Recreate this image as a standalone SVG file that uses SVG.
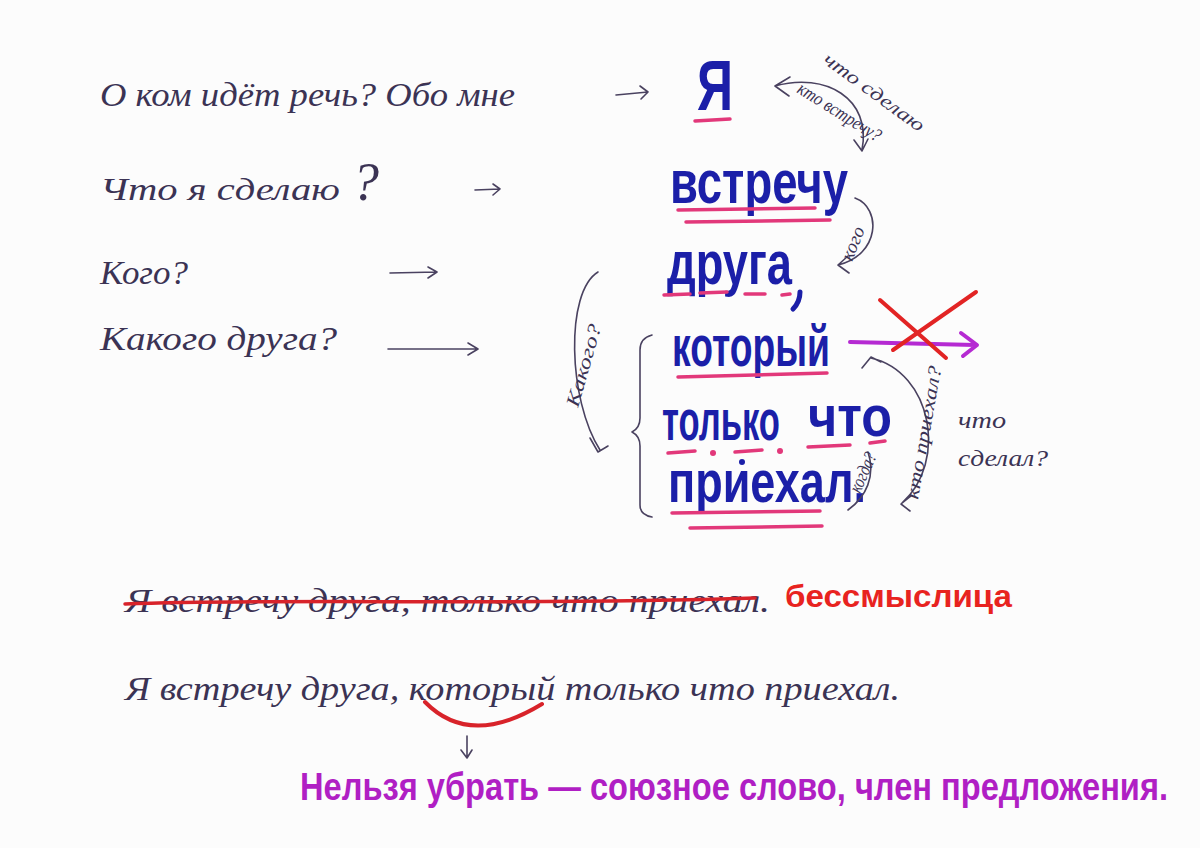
<svg xmlns="http://www.w3.org/2000/svg" width="1200" height="848" viewBox="0 0 1200 848">
<defs>
<style>
.ink{font-family:"Liberation Serif","DejaVu Serif",serif;font-style:italic;fill:#3b3354}
.blue{font-family:"Liberation Sans","DejaVu Sans",sans-serif;font-weight:700;fill:#1b1fa8}
.pen{fill:none;stroke:#4a4260;stroke-width:1.6;stroke-linecap:round;stroke-linejoin:round}
.pink{fill:none;stroke:#e2387a;stroke-width:3.5;stroke-linecap:round}
.small{font-family:"Liberation Serif","DejaVu Serif",serif;font-style:italic;fill:#3b3354;font-size:19px}
</style>
</defs>
<rect width="1200" height="848" fill="#fcfcfc"/>

<g id="questions">
<text class="ink" x="100" y="106" font-size="34" textLength="415" lengthAdjust="spacingAndGlyphs">О ком идёт речь? Обо мне</text>
<text class="ink" x="100" y="200" font-size="32" textLength="240" lengthAdjust="spacingAndGlyphs">Что я сделаю</text>
<text class="ink" x="352" y="200" font-size="54">?</text>
<text class="ink" x="100" y="284" font-size="34" textLength="88" lengthAdjust="spacingAndGlyphs">Кого?</text>
<text class="ink" x="100" y="350" font-size="34" textLength="237" lengthAdjust="spacingAndGlyphs">Какого друга?</text>
</g>

<g id="words">
<text class="blue" x="697" y="110" font-size="70" textLength="36" lengthAdjust="spacingAndGlyphs">Я</text>
<text class="blue" x="670" y="203" font-size="62" textLength="178" lengthAdjust="spacingAndGlyphs">встречу</text>
<text class="blue" x="667" y="284" font-size="62" textLength="125" lengthAdjust="spacingAndGlyphs">друга</text>
<path d="M800,292 Q800,302 793,309" fill="none" stroke="#1b1fa8" stroke-width="5" stroke-linecap="round"/>
<text class="blue" x="672" y="366" font-size="58" textLength="158" lengthAdjust="spacingAndGlyphs">который</text>
<text class="blue" x="662" y="440" font-size="58" textLength="118" lengthAdjust="spacingAndGlyphs">только</text>
<text class="blue" x="808" y="436" font-size="58" textLength="84" lengthAdjust="spacingAndGlyphs">что</text>
<text class="blue" x="668" y="502" font-size="60" textLength="198" lengthAdjust="spacingAndGlyphs">приехал.</text>
<circle cx="742" cy="462" r="3" fill="#1b1fa8"/>
</g>

<g id="underlines">
<path class="pink" d="M695,121 L730,119"/>
<path class="pink" d="M678,210 L815,208"/>
<path class="pink" d="M686,222 L830,220"/>
<path class="pink" d="M664,295 L690,294 M700,293 L727,292 M745,294 L765,294 M782,295 L790,294"/>
<path class="pink" d="M678,377 L827,373"/>
<path class="pink" d="M668,453 L695,451 M735,452 L762,450 M808,447 L850,445 M870,443 L885,441"/>
<circle cx="713" cy="453" r="3" fill="#e2387a"/>
<circle cx="780" cy="451" r="3" fill="#e2387a"/>
<path class="pink" d="M672,513 L820,511"/>
<path class="pink" d="M690,528 L822,526"/>
</g>

<g id="brace">
<path class="pen" d="M652,335 Q640,338 640,350 L640,418 Q640,428 632,432 Q640,436 640,446 L640,505 Q640,515 652,517"/>
</g>

<g id="connectors">
<path class="pen" d="M616,95 L648,92 M640,86 L648,92 L641,99"/>
<path class="pen" d="M475,190 L500,189 M493,184 L500,189 L493,195"/>
<path class="pen" d="M390,273 L437,272 M428,267 L437,272 L428,278"/>
<path class="pen" d="M388,349 L478,349 M468,343 L478,349 L468,355"/>
<path class="pen" d="M775,86 C825,72 872,98 862,150 M790,77 L775,86 L789,96 M854,140 L862,151 L868,139"/>
<path class="pen" d="M855,198 C882,208 880,255 838,265 M848,256 L838,265 L849,273"/>
<path class="pen" d="M598,272 C565,292 568,400 600,450 M590,438 L598,452 L608,446"/>
<path class="pen" d="M871,358 C932,372 948,462 902,503 M862,368 L871,357 L881,362 M911,496 L901,504 L910,511"/>
<path class="pen" d="M848,510 C866,497 876,476 868,452"/>
<path d="M850,342 L975,345 M961,333 L977,345 L963,356" fill="none" stroke="#b52ad2" stroke-width="4" stroke-linecap="round" stroke-linejoin="round"/>
<path d="M880,300 L946,358 M976,292 L893,350" fill="none" stroke="#e22424" stroke-width="4" stroke-linecap="round"/>
</g>

<g id="labels">
<text class="small" font-size="21" transform="translate(822,62) rotate(36)" textLength="120" lengthAdjust="spacingAndGlyphs">что сделаю</text>
<text class="small" font-size="18" transform="translate(796,92) rotate(32)" textLength="95" lengthAdjust="spacingAndGlyphs">кто встречу?</text>
<text class="small" font-size="17" transform="translate(852,262) rotate(-68)" textLength="35" lengthAdjust="spacingAndGlyphs">кого</text>
<text class="small" font-size="21" transform="translate(578,408) rotate(-74)" textLength="85" lengthAdjust="spacingAndGlyphs">Какого?</text>
<text class="small" font-size="18" transform="translate(918,500) rotate(-80)" textLength="135" lengthAdjust="spacingAndGlyphs">кто приехал?</text>
<text class="small" font-size="16" transform="translate(860,494) rotate(-66)" textLength="42" lengthAdjust="spacingAndGlyphs">когда?</text>
<text class="ink" x="958" y="428" font-size="24" textLength="48" lengthAdjust="spacingAndGlyphs">что</text>
<text class="ink" x="958" y="466" font-size="24" textLength="90" lengthAdjust="spacingAndGlyphs">сделал?</text>
</g>

<g id="sentences">
<text class="ink" x="125" y="612" font-size="34" textLength="645" lengthAdjust="spacingAndGlyphs">Я встречу друга, только что приехал.</text>
<path d="M125,604 C300,598 500,606 755,598" fill="none" stroke="#d8232a" stroke-width="3.5" stroke-linecap="round"/>
<text x="785" y="607" font-family="Liberation Sans, DejaVu Sans, sans-serif" font-weight="700" font-size="32" fill="#e8231f" textLength="227" lengthAdjust="spacingAndGlyphs">бессмыслица</text>
<text class="ink" x="125" y="700" font-size="34" textLength="775" lengthAdjust="spacingAndGlyphs">Я встречу друга, который только что приехал.</text>
<path d="M425,702 Q470,748 542,704" fill="none" stroke="#d8232a" stroke-width="4" stroke-linecap="round"/>
<path class="pen" d="M467,736 L467,758 M461,750 L467,758 L472,750"/>
<text x="300" y="800" font-family="Liberation Sans, DejaVu Sans, sans-serif" font-weight="700" font-size="38" fill="#b01fc4" textLength="868" lengthAdjust="spacingAndGlyphs">Нельзя убрать — союзное слово, член предложения.</text>
</g>
</svg>
